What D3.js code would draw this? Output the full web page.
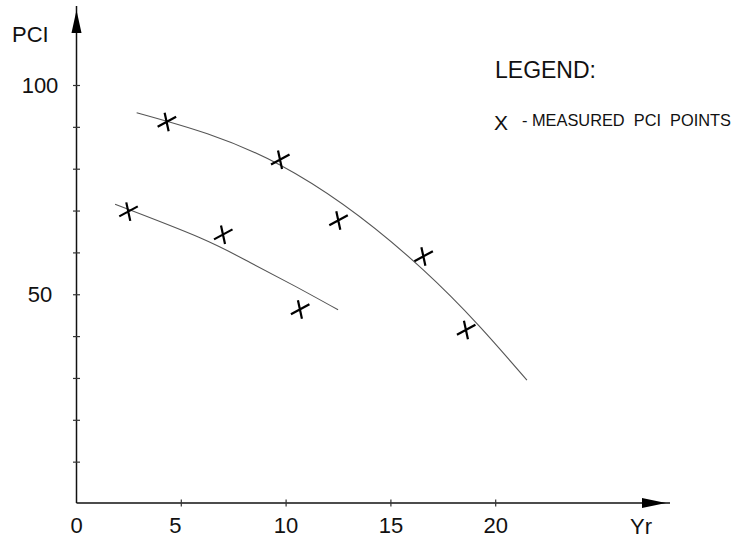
<!DOCTYPE html>
<html>
<head>
<meta charset="utf-8">
<script src="https://cdn.jsdelivr.net/npm/d3@7"></script>
<style>
  html, body { margin: 0; padding: 0; background: #fff; }
  svg { display: block; font-family: Arial, "Liberation Sans", sans-serif; }
</style>
</head>
<body>
<div id="chart"></div>
<script>
// measured PCI points (year, PCI)
const upperPoints = [[4.30, 91.2], [9.71, 82.2], [12.49, 67.7], [16.55, 59.1], [18.58, 41.5]];
const lowerPoints = [[2.47, 69.8], [6.99, 64.3], [10.66, 46.4]];

// hand-drawn deterioration curves
const upperCurve = [[2.87, 93.5], [9.71, 81.0], [16.53, 56.0], [21.49, 29.6]];
const lowerCurve = [[1.84, 71.6], [5.89, 63.6], [8.28, 57.7], [10.33, 52.3], [12.48, 46.4]];

const xTicks = [5, 10, 15, 20];
const yTicks = [10, 20, 30, 40, 50, 60, 70, 80, 90, 100];
const yLabels = [50, 100];

const W = 738, H = 544;
const x = d3.scaleLinear().domain([0, 20]).range([76.5, 495.7]);
const y = d3.scaleLinear().domain([0, 100]).range([504, 85.5]);

const svg = d3.select('#chart').append('svg')
  .attr('width', W).attr('height', H);

const x0 = x(0), y0 = y(0) - 1;

// axes lines
svg.append('line')
  .attr('x1', x0).attr('y1', y0).attr('x2', 670).attr('y2', y0)
  .attr('stroke', '#111').attr('stroke-width', 1.5);
svg.append('line')
  .attr('x1', x0).attr('y1', y0).attr('x2', x0).attr('y2', 6)
  .attr('stroke', '#111').attr('stroke-width', 1.5);

// arrow heads
svg.append('path')
  .attr('d', `M${x0},10 L${x0 + 5},33 L${x0 - 5},33 Z`)
  .attr('fill', '#000');
svg.append('path')
  .attr('d', `M666,${y0} L642,${y0 - 5} L642,${y0 + 5} Z`)
  .attr('fill', '#000');

// ticks
svg.append('g').selectAll('line')
  .data(xTicks).join('line')
  .attr('x1', d => x(d)).attr('x2', d => x(d))
  .attr('y1', y0 - 3.5).attr('y2', y0 + 3.5)
  .attr('stroke', '#333').attr('stroke-width', 1.2);
svg.append('g').selectAll('line')
  .data(yTicks).join('line')
  .attr('x1', x0 - 3.5).attr('x2', x0 + 3.5)
  .attr('y1', d => y(d)).attr('y2', d => y(d))
  .attr('stroke', '#333').attr('stroke-width', 1.2);

// tick labels
svg.append('g').selectAll('text')
  .data([0].concat(xTicks)).join('text')
  .attr('x', d => x(d) + (d === 5 ? -6 : 0)).attr('y', 533)
  .attr('text-anchor', 'middle')
  .attr('font-size', '22px').attr('fill', '#111')
  .text(d => d);
svg.append('g').selectAll('text')
  .data(yLabels).join('text')
  .attr('x', 40).attr('y', d => y(d) + 7)
  .attr('text-anchor', 'middle')
  .attr('font-size', '22px').attr('fill', '#111')
  .text(d => d);

// axis titles
svg.append('text').attr('x', 12).attr('y', 41.5)
  .attr('font-size', '22px').attr('fill', '#111').text('PCI');
svg.append('text').attr('x', 630).attr('y', 534)
  .attr('font-size', '22px').attr('fill', '#111').text('Yr');

// curves
const line = d3.line()
  .x(d => x(d[0])).y(d => y(d[1]))
  .curve(d3.curveNatural);
[upperCurve, lowerCurve].forEach(c => {
  svg.append('path')
    .attr('d', line(c))
    .attr('fill', 'none')
    .attr('stroke', '#555')
    .attr('stroke-width', 1.1);
});

// X marks
const markPath = 'M-9,4.5 L9.5,-5.5 M-2,-9.5 L2,9';
svg.append('g').selectAll('path')
  .data(upperPoints.concat(lowerPoints)).join('path')
  .attr('transform', d => `translate(${x(d[0])},${y(d[1])})`)
  .attr('d', markPath)
  .attr('fill', 'none')
  .attr('stroke', '#000')
  .attr('stroke-width', 2.2);

// legend
svg.append('text').attr('x', 495).attr('y', 78)
  .attr('font-size', '23px').attr('fill', '#111').text('LEGEND:');
svg.append('text').attr('x', 494).attr('y', 129.5)
  .attr('font-size', '21px').attr('fill', '#111').text('X');
svg.append('text').attr('x', 522).attr('y', 126)
  .attr('font-size', '17px').attr('fill', '#111')
  .attr('textLength', 209).attr('lengthAdjust', 'spacingAndGlyphs')
  .attr('xml:space', 'preserve')
  .text('- MEASURED  PCI  POINTS');
</script>
</body>
</html>
